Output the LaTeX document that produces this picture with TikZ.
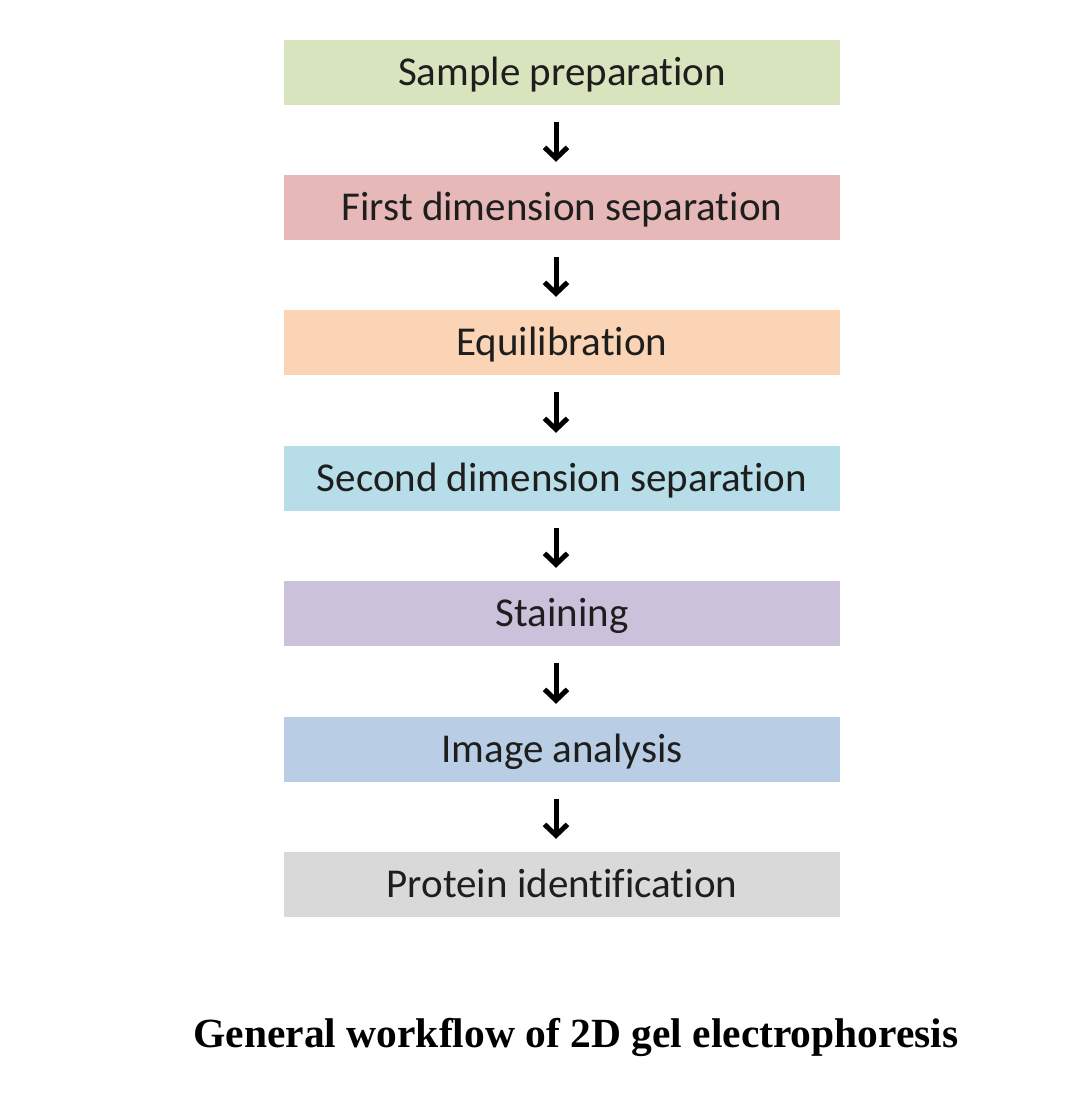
\documentclass[tikz,border=0pt]{standalone}
\usepackage{fontspec}
\setmainfont{Carlito}[Ligatures=NoCommon]
\newfontfamily\titlefont{Liberation Serif}
\usetikzlibrary{arrows.meta}
\definecolor{cA}{HTML}{D7E4BD}
\definecolor{cB}{HTML}{E6B9B8}
\definecolor{cC}{HTML}{FAD4B5}
\definecolor{cD}{HTML}{B7DEE8}
\definecolor{cE}{HTML}{CCC1DA}
\definecolor{cF}{HTML}{B9CDE5}
\definecolor{cG}{HTML}{D9D9D9}
\definecolor{txt}{HTML}{1E1E1E}
\tikzset{
  stepbox/.style={rectangle, minimum width=556pt, minimum height=65pt, inner sep=0pt,
    text height=30pt, text depth=4pt,
    text=txt, font=\fontsize{41}{49}\selectfont},
  flow/.style={line width=5pt, -{Straight Barb[length=11pt,width=23pt,line width=5pt]},
    shorten <=17pt, shorten >=13pt, color=black}
}
\begin{document}
\begin{tikzpicture}[x=1pt,y=-1pt]
\useasboundingbox (0,0) rectangle (1072,1106);
\node[stepbox, fill=cA] (s1) at (562,72) {Sample preparation};
\node[stepbox, fill=cB] (s2) at (562,207.5) {First dimension separation};
\node[stepbox, fill=cC] (s3) at (562,342.5) {Equilibration};
\node[stepbox, fill=cD] (s4) at (562,478.5) {Second dimension separation};
\node[stepbox, fill=cE] (s5) at (562,613.5) {Staining};
\node[stepbox, fill=cF] (s6) at (562,749.5) {Image analysis};
\node[stepbox, fill=cG] (s7) at (562,884.5) {Protein identification};
\foreach \a/\b in {s1/s2,s2/s3,s3/s4,s4/s5,s5/s6,s6/s7}{
  \draw[flow] ([xshift=-6pt]\a.south) -- ([xshift=-6pt]\b.north);
}
\node[font=\titlefont\bfseries\fontsize{41.5}{50}\selectfont] (title) at (576,1037) {General workflow of 2D gel electrophoresis};
\end{tikzpicture}
\end{document}
